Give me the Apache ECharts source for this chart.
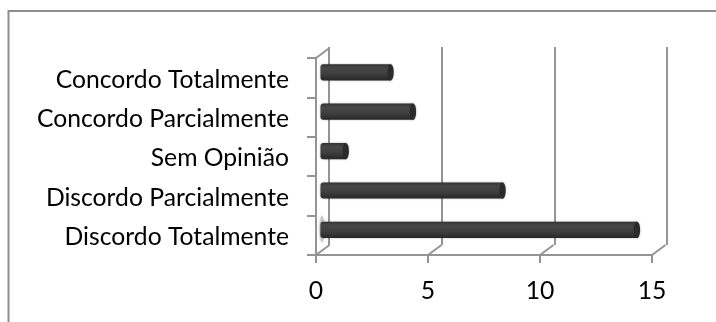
<!DOCTYPE html>
<html>
<head>
<meta charset="utf-8">
<style>html,body{margin:0;padding:0;background:#fff}#chart{width:716px;height:322px}</style>
<script src="https://cdn.jsdelivr.net/npm/echarts@6/dist/echarts.min.js"></script>
</head>
<body>
<div id="chart"></div>
<script>
// Responses per opinion, bottom row first
const categories = ['Discordo Totalmente', 'Discordo Parcialmente', 'Sem Opinião', 'Concordo Parcialmente', 'Concordo Totalmente'];
const responses = [14, 8, 1, 4, 3];
const xTicks = [0, 5, 10, 15];

const lineColor = '#949494';
const labelFont = { color: '#000', fontFamily: 'Lato, Carlito, sans-serif', fontSize: 24.7 };
const depth = { x: 13.5, y: -10 };      // shift from the front plane to the back wall
const barShift = { x: 4.5, y: -5.4 };   // bars sit between the two planes
const capDepth = 6;

const chart = echarts.init(document.getElementById('chart'), null, { renderer: 'canvas' });

// Cylinder-like bar: shaded body plus a darker elliptical end cap
function renderBar(params, api) {
  const start = api.coord([0, api.value(1)]);
  const end = api.coord([api.value(0), api.value(1)]);
  const h = api.size([0, 1])[1] * 0.41;
  const x0 = start[0] + barShift.x;
  const x1 = end[0] + barShift.x;
  const cy = start[1] + barShift.y;
  const shade = new echarts.graphic.LinearGradient(0, 0, 0, 1, [
    { offset: 0, color: '#333' },
    { offset: 0.22, color: '#474747' },
    { offset: 0.6, color: '#3e3e3e' },
    { offset: 1, color: '#272727' }
  ]);
  return {
    type: 'group',
    children: [
      {
        type: 'rect',
        shape: { x: x0, y: cy - h / 2, width: x1 - x0 + capDepth / 2, height: h, r: [3, 0, 0, 3] },
        style: { fill: shade, shadowBlur: 2, shadowColor: 'rgba(0,0,0,0.35)' }
      },
      {
        type: 'ellipse',
        shape: { cx: x1 + capDepth / 2, cy: cy, rx: capDepth / 2, ry: h / 2 },
        style: { fill: '#2b2b2b', shadowBlur: 2, shadowColor: 'rgba(0,0,0,0.3)' }
      }
    ]
  };
}

// Floor edges joining each front tick to its gridline on the back wall
function renderFloorEdge(params, api) {
  const p = api.coord([api.value(0), 0]);
  const y = params.coordSys.y + params.coordSys.height;
  return {
    type: 'line',
    shape: { x1: p[0], y1: y, x2: p[0] + depth.x, y2: y + depth.y },
    style: { stroke: lineColor, lineWidth: 2 }
  };
}

// Short edge at the top of the side wall
function renderTopEdge(params) {
  const c = params.coordSys;
  return {
    type: 'line',
    shape: { x1: c.x, y1: c.y, x2: c.x + depth.x, y2: c.y + depth.y },
    style: { stroke: lineColor, lineWidth: 2 }
  };
}

chart.setOption({
  animation: false,
  backgroundColor: '#fff',
  grid: [
    { left: 316, top: 58, width: 336, height: 197 },
    { left: 329, top: 47, width: 338, height: 198 }
  ],
  xAxis: [
    {
      type: 'value', gridIndex: 0, min: 0, max: 15, interval: 5,
      splitLine: { show: false },
      axisLine: { show: true, lineStyle: { color: lineColor, width: 2 } },
      axisTick: { show: true, length: 8, lineStyle: { color: lineColor, width: 2 } },
      axisLabel: Object.assign({ margin: 24, formatter: v => xTicks.includes(v) ? String(v) : '' }, labelFont)
    },
    {
      type: 'value', gridIndex: 1, min: 0, max: 15, interval: 5,
      axisLine: { show: false }, axisTick: { show: false }, axisLabel: { show: false },
      splitLine: { show: true, lineStyle: { color: lineColor, width: 2 } }
    }
  ],
  yAxis: [
    {
      type: 'category', gridIndex: 0, data: categories,
      axisLine: { show: true, onZero: false, lineStyle: { color: lineColor, width: 2 } },
      axisTick: { show: true, length: 9, lineStyle: { color: lineColor, width: 2 } },
      // Top-aligned with a short line box, which sets the labels just under each band's centre
      axisLabel: Object.assign({ margin: 27, verticalAlign: 'top', lineHeight: 4 }, labelFont),
      splitLine: { show: false }
    },
    {
      type: 'category', gridIndex: 1, data: categories,
      axisLine: { show: false }, axisTick: { show: false }, axisLabel: { show: false },
      splitLine: { show: false }
    }
  ],
  series: [
    {
      type: 'custom', xAxisIndex: 0, yAxisIndex: 0, z: 2, silent: true,
      data: xTicks.map(t => [t]), renderItem: renderFloorEdge, clip: false
    },
    {
      type: 'custom', xAxisIndex: 0, yAxisIndex: 0, z: 2, silent: true,
      data: [[0]], renderItem: renderTopEdge, clip: false
    },
    {
      type: 'custom', xAxisIndex: 0, yAxisIndex: 0, z: 5, silent: true,
      data: responses.map((v, i) => [v, i]), encode: { x: 0, y: 1 },
      renderItem: renderBar, clip: false
    }
  ],
  graphic: [
    // Chart frame: top and left edges only
    { type: 'polyline', z: 0, shape: { points: [[8.5, 322], [8.5, 11], [716, 11]] }, style: { stroke: '#8e8e8e', lineWidth: 2, fill: null } },
    // Faint shadow beside the longest bar
    { type: 'ellipse', z: 3, shape: { cx: 322, cy: 229, rx: 2.2, ry: 13 }, style: { fill: '#c4c4c4', shadowBlur: 3, shadowColor: '#c4c4c4' } }
  ]
});
</script>
</body>
</html>
